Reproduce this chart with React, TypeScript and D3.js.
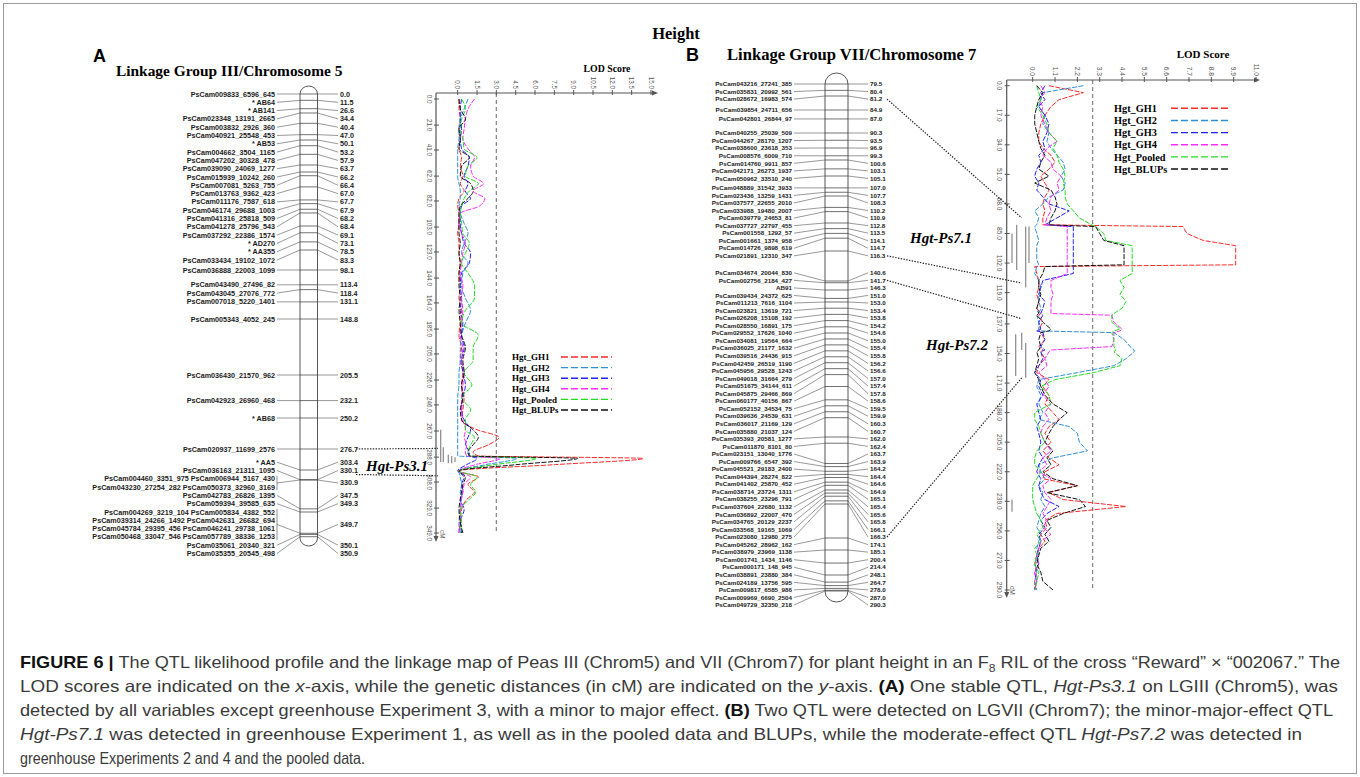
import * as d3 from "d3";

const SERIF = "'Liberation Serif', 'Times New Roman', serif";
const SANS = "'Liberation Sans', Arial, sans-serif";

const TRAITS = ["Hgt_GH1", "Hgt_GH2", "Hgt_GH3", "Hgt_GH4", "Hgt_Pooled", "Hgt_BLUPs"];
const TRAIT_COLORS = ["#ff2a2a", "#2f8fd8", "#2222ff", "#ff2cff", "#22dd22", "#111111"];

// ---------- Panel A: linkage group III / chromosome 5 ----------
const A_MARKERS: [string, number][] = [
  ["PsCam009833_6596_645", 0.0],
  ["* AB64", 11.5],
  ["* AB141", 26.6],
  ["PsCam023348_13191_2665", 34.4],
  ["PsCam003832_2926_360", 40.4],
  ["PsCam040921_25548_453", 47.0],
  ["* AB53", 50.1],
  ["PsCam004662_3504_1165", 53.2],
  ["PsCam047202_30328_478", 57.9],
  ["PsCam039090_24069_1277", 63.7],
  ["PsCam015939_10242_260", 66.2],
  ["PsCam007081_5263_755", 66.4],
  ["PsCam013763_9362_423", 67.0],
  ["PsCam011176_7587_618", 67.7],
  ["PsCam046174_29688_1003", 67.9],
  ["PsCam041316_25818_509", 68.2],
  ["PsCam041278_25796_543", 68.4],
  ["PsCam037292_22386_1574", 69.1],
  ["* AD270", 73.1],
  ["* AA355", 78.5],
  ["PsCam033434_19102_1072", 83.3],
  ["PsCam036888_22003_1099", 98.1],
  ["PsCam043490_27496_82", 113.4],
  ["PsCam043045_27076_772", 118.4],
  ["PsCam007018_5220_1401", 131.1],
  ["PsCam005343_4052_245", 148.8],
  ["PsCam036430_21570_962", 205.5],
  ["PsCam042923_26960_468", 232.1],
  ["* AB68", 250.2],
  ["PsCam020937_11699_2576", 276.7],
  ["* AA5", 303.4],
  ["PsCam036163_21311_1095", 330.1],
  ["PsCam004460_3351_975 PsCam006944_5167_430", 330.9],
  ["PsCam043230_27254_282 PsCam050373_32960_3169", 330.9],
  ["PsCam042783_26826_1395", 347.5],
  ["PsCam059394_39585_635", 349.3],
  ["PsCam004269_3219_104 PsCam005834_4382_552", 349.7],
  ["PsCam039314_24266_1492 PsCam042631_26682_694", 349.7],
  ["PsCam045784_29395_456 PsCam046241_29738_1061", 349.7],
  ["PsCam050468_33047_546 PsCam057789_38336_1253", 349.7],
  ["PsCam035061_20340_321", 350.1],
  ["PsCam035355_20545_498", 350.9],
];

const A_GRID = [
  0, 8, 16, 24, 32, 40, 47, 54, 62, 68,
  74, 80, 86, 92, 100, 108, 116, 124, 132, 140,
  150, 160, 170, 180, 190, 200, 210, 220, 230, 240,
  250, 258, 266, 272, 278, 284, 287, 289, 294, 299,
  304, 310, 316, 322, 330, 340, 349,
];
const A_GH1 = [
  0.1, 0.1, 0.2, 0.1, 0.2, 0.1, 0.3, 0.2, 0.4, 0.2,
  0.5, 0.1, 0.0, 0.1, 0.1, 0.0, 0.1, 0.1, 0.2, 0.1,
  0.2, 0.1, 0.3, 0.2, 0.1, 0.3, 0.2, 0.4, 0.3, 0.5,
  0.4, 0.3, 1.5, 3.2, 2.4, 1.2, 1.6, 14.4, 7.6, 0.1,
  1.6, 0.8, 1.3, 0.7, 0.3, 0.2, 0.1,
];
const A_GH2 = [
  0.8, 0.5, 0.2, 0.1, 0.1, 0.0, 0.0, 0.0, 0.0, 0.1,
  0.2, 0.2, 0.1, 0.2, 0.5, 0.8, 0.5, 0.3, 0.8, 0.4,
  0.3, 0.6, 1.0, 0.6, 0.3, 0.2, 0.2, 0.1, 0.1, 0.0,
  0.0, 0.0, 0.0, 0.0, 0.0, 0.0, 0.0, 4.6, 2.2, 0.1,
  0.2, 0.3, 0.2, 0.3, 0.2, 0.1, 0.1,
];
const A_GH3 = [
  0.3, 0.2, 0.2, 0.3, 0.2, 0.3, 0.9, 0.8, 0.5, 0.8,
  0.6, 1.0, 0.3, 0.2, 0.2, 0.3, 0.5, 1.0, 0.9, 0.3,
  0.2, 0.3, 0.2, 0.4, 0.3, 0.5, 0.3, 0.4, 0.6, 0.4,
  0.3, 0.5, 1.0, 0.8, 0.6, 0.9, 0.9, 1.5, 0.7, 0.0,
  0.5, 0.3, 0.4, 0.2, 0.5, 0.2, 0.3,
];
const A_GH4 = [
  1.3, 0.8, 0.6, 0.5, 0.4, 0.8, 1.3, 1.0, 1.2, 2.0,
  1.2, 2.1, 1.7, 0.2, 0.1, 0.3, 0.6, 0.4, 0.3, 0.2,
  0.4, 0.3, 0.4, 0.3, 0.2, 0.4, 0.3, 0.5, 0.4, 0.3,
  0.3, 0.4, 0.6, 0.5, 0.7, 0.6, 0.7, 3.3, 1.4, 0.1,
  1.0, 0.5, 0.4, 0.3, 0.2, 0.2, 0.1,
];
const A_POOLED = [
  0.3, 0.6, 0.3, 0.2, 0.4, 0.5, 1.5, 0.8, 0.6, 1.6,
  0.9, 0.5, 0.3, 0.2, 0.3, 0.4, 0.9, 0.6, 0.3, 0.8,
  1.3, 1.3, 0.6, 0.3, 1.6, 1.2, 1.2, 0.5, 1.1, 0.3,
  1.0, 0.6, 0.6, 1.3, 1.0, 0.8, 0.9, 6.1, 2.9, 0.1,
  1.5, 1.0, 1.4, 0.9, 0.2, 0.3, 0.2,
];
const A_BLUPS = [
  0.1, 0.2, 0.6, 0.1, 0.2, 0.1, 0.9, 0.3, 0.2, 1.0,
  1.2, 0.8, 0.2, 0.1, 0.1, 0.1, 0.2, 0.1, 0.2, 0.1,
  0.1, 0.2, 0.1, 0.2, 0.3, 0.6, 0.4, 0.5, 0.3, 0.4,
  0.2, 0.3, 1.2, 1.6, 1.2, 0.8, 0.9, 9.3, 4.6, 0.1,
  0.6, 0.4, 0.3, 0.2, 0.1, 0.2, 0.4,
];
const A_LOD_TICKS = [0, 1.5, 3, 4.5, 6, 7.5, 9, 10.5, 12, 13.5, 15];
const A_CM_TICKS = [0, 21, 41, 62, 82, 103, 123, 144, 164, 185, 205, 226, 246, 267, 288, 308, 329, 349];
const A_THRESHOLD = 3.0;
const A_QTL = [{ name: "Hgt-Ps3.1", flank: [276.7, 330.1], plotCM: [281, 303] }];
const A_CI: [number, number][] = [[266, 292], [280, 292], [286, 293], [287, 293], [288, 292]];

// ---------- Panel B: linkage group VII / chromosome 7 ----------
const B_MARKERS: [string, number][] = [
  ["PsCam043216_27241_385", 79.5],
  ["PsCam035831_20992_561", 80.4],
  ["PsCam028672_16983_574", 81.2],
  ["PsCam039854_24711_656", 84.9],
  ["PsCam042801_26844_97", 87.0],
  ["PsCam040255_25039_509", 90.3],
  ["PsCam044267_28170_1207", 93.5],
  ["PsCam038600_23618_353", 96.9],
  ["PsCam008576_6009_710", 99.3],
  ["PsCam014760_9911_857", 100.6],
  ["PsCam042171_26273_1937", 103.1],
  ["PsCam050962_33510_240", 105.1],
  ["PsCam048889_31542_3933", 107.0],
  ["PsCam023436_13259_1431", 107.7],
  ["PsCam037577_22655_2010", 108.3],
  ["PsCam033988_19480_2007", 110.2],
  ["PsCam039779_24653_81", 110.9],
  ["PsCam037727_22797_455", 112.8],
  ["PsCam001558_1292_57", 113.5],
  ["PsCam001661_1374_958", 114.1],
  ["PsCam014726_9898_619", 114.7],
  ["PsCam021891_12310_347", 116.3],
  ["PsCam034674_20044_830", 140.6],
  ["PsCam002756_2184_427", 141.7],
  ["AB91", 146.3],
  ["PsCam039434_24372_625", 151.0],
  ["PsCam011213_7616_1104", 153.0],
  ["PsCam023821_13619_721", 153.4],
  ["PsCam026208_15108_192", 153.8],
  ["PsCam028550_16891_175", 154.2],
  ["PsCam029552_17626_1040", 154.6],
  ["PsCam034081_19564_664", 155.0],
  ["PsCam036025_21177_1632", 155.4],
  ["PsCam039516_24436_915", 155.8],
  ["PsCam042459_26519_1190", 156.2],
  ["PsCam045956_29528_1243", 156.6],
  ["PsCam049018_31664_279", 157.0],
  ["PsCam051675_34144_611", 157.4],
  ["PsCam045875_29466_869", 157.8],
  ["PsCam060177_40156_867", 158.6],
  ["PsCam052152_34534_75", 159.5],
  ["PsCam039636_24539_631", 159.9],
  ["PsCam036017_21169_129", 160.3],
  ["PsCam035880_21037_124", 160.7],
  ["PsCam035393_20581_1277", 162.0],
  ["PsCam011870_8101_80", 162.4],
  ["PsCam023151_13040_1776", 163.7],
  ["PsCam009766_6547_392", 163.9],
  ["PsCam045521_29183_2400", 164.2],
  ["PsCam044394_28274_822", 164.4],
  ["PsCam041402_25870_452", 164.6],
  ["PsCam038714_23724_1311", 164.9],
  ["PsCam038255_23296_791", 165.1],
  ["PsCam037604_22680_1132", 165.4],
  ["PsCam036892_22007_470", 165.6],
  ["PsCam034765_20129_2237", 165.8],
  ["PsCam033568_19165_1069", 166.1],
  ["PsCam023080_12980_275", 166.3],
  ["PsCam045262_28962_162", 174.1],
  ["PsCam038979_23969_1138", 185.1],
  ["PsCam001741_1434_1146", 200.4],
  ["PsCam000171_148_945", 214.4],
  ["PsCam038891_23880_384", 248.1],
  ["PsCam024189_13756_595", 264.7],
  ["PsCam009817_6585_986", 278.0],
  ["PsCam009969_6690_2504", 287.0],
  ["PsCam049729_32350_218", 290.3],
];

const B_GRID = [
  0, 4, 8, 12, 17, 22, 27, 32, 36, 40,
  44, 48, 52, 56, 60, 64, 68, 72, 76, 80,
  81, 85, 89, 92, 96, 100, 103, 104, 108, 112,
  116, 120, 124, 128, 131, 132, 136, 140, 141, 142,
  146, 150, 152, 153, 157, 161, 165, 169, 173, 178,
  183, 188, 192, 196, 200, 205, 210, 214, 218, 222,
  226, 230, 234, 238, 242, 246, 250, 254, 258, 262,
  266, 270, 275, 280, 285, 290,
];
const B_GH1 = [
  0.8, 2.5, 1.3, 0.9, 0.6, 0.4, 0.3, 0.3, 0.5, 0.9,
  1.1, 0.8, 0.4, 0.6, 0.8, 0.6, 0.5, 0.6, 0.5, 0.5,
  7.4, 7.6, 8.4, 10.0, 10.0, 10.0, 10.0, 0.1, 0.2, 0.3,
  0.3, 0.2, 0.3, 0.2, 0.4, 0.3, 0.5, 0.3, 0.3, 0.4,
  0.6, 0.3, 0.5, 0.4, 0.6, 0.3, 0.2, 0.8, 0.5, 0.8,
  0.6, 1.0, 1.3, 0.8, 0.6, 0.9, 0.5, 0.8, 1.3, 0.6,
  0.5, 2.2, 0.8, 1.5, 4.6, 1.2, 0.6, 0.7, 0.4, 0.6,
  0.3, 0.2, 0.1, 0.2, 0.1, 0.1,
];
const B_GH2 = [
  2.5, 0.5, 0.4, 0.3, 0.6, 0.5, 0.8, 0.7, 0.9, 1.2,
  1.5, 1.6, 1.4, 1.6, 1.5, 0.8, 0.5, 0.1, 0.3, 0.2,
  0.1, 0.2, 0.3, 0.2, 0.2, 0.2, 0.3, 0.2, 0.1, 0.3,
  0.4, 0.3, 0.3, 0.4, 0.3, 0.2, 0.3, 0.3, 0.3, 4.0,
  4.5, 4.8, 5.0, 5.0, 4.6, 4.0, 2.2, 0.3, 0.2, 0.4,
  0.3, 0.5, 0.3, 1.8, 2.2, 2.3, 2.7, 1.0, 0.3, 0.4,
  0.6, 0.3, 0.5, 0.4, 0.6, 0.4, 0.3, 0.2, 0.4, 0.3,
  0.2, 0.3, 0.1, 0.2, 0.1, 0.2,
];
const B_GH3 = [
  0.6, 0.4, 0.6, 0.3, 0.6, 0.8, 0.7, 0.5, 0.6, 0.3,
  0.4, 0.2, 0.1, 0.3, 0.2, 0.5, 0.8, 1.8, 1.2, 0.6,
  2.0, 2.0, 2.0, 2.0, 2.0, 2.0, 2.0, 2.0, 2.0, 0.5,
  0.4, 0.3, 0.6, 0.5, 0.4, 0.5, 0.3, 0.4, 0.2, 0.5,
  0.6, 0.4, 0.6, 0.4, 0.5, 0.3, 0.1, 0.4, 0.3, 0.5,
  0.2, 0.3, 0.4, 0.2, 0.3, 0.4, 0.3, 0.5, 0.3, 0.2,
  0.4, 0.3, 0.4, 0.6, 1.3, 0.7, 0.4, 0.6, 0.3, 0.4,
  0.3, 0.2, 0.3, 0.1, 0.2, 0.1,
];
const B_GH4 = [
  0.4, 0.6, 0.3, 0.5, 0.4, 0.6, 0.8, 1.2, 0.7, 0.5,
  0.9, 1.0, 1.4, 1.2, 1.3, 0.9, 0.8, 0.9, 0.7, 0.6,
  1.7, 1.7, 1.7, 1.7, 1.7, 1.7, 1.7, 1.7, 1.7, 0.9,
  0.9, 1.0, 0.9, 0.9, 0.9, 3.9, 4.0, 4.4, 4.3, 4.0,
  4.0, 3.9, 0.9, 0.8, 0.6, 0.7, 0.3, 0.6, 0.8, 0.5,
  0.9, 0.6, 0.8, 0.5, 0.4, 0.6, 0.9, 0.5, 0.7, 0.3,
  0.9, 0.5, 0.6, 0.9, 0.7, 0.5, 0.7, 0.5, 0.9, 0.4,
  0.3, 0.2, 0.3, 0.1, 0.2, 0.1,
];
const B_POOLED = [
  0.2, 0.3, 0.4, 0.2, 0.5, 0.7, 0.8, 1.2, 1.0, 1.2,
  1.3, 1.5, 1.6, 1.5, 1.6, 1.6, 1.7, 2.0, 2.3, 2.9,
  3.1, 3.5, 3.6, 4.9, 4.9, 4.9, 4.9, 4.9, 4.9, 4.3,
  4.5, 4.3, 4.6, 4.4, 4.0, 3.9, 3.9, 4.3, 4.0, 3.9,
  4.0, 4.0, 4.1, 4.0, 4.4, 4.3, 3.0, 1.1, 0.4, 0.8,
  0.9, 0.1, 0.1, 0.3, 0.4, 0.6, 0.2, 0.1, 0.1, 0.4,
  0.2, 0.0, 0.0, 0.0, 0.1, 0.2, 0.4, 0.5, 0.2, 0.4,
  0.1, 0.2, 0.1, 0.3, 0.2, 0.1,
];
const B_BLUPS = [
  0.2, 0.5, 0.3, 0.2, 0.1, 0.1, 0.2, 0.3, 0.4, 0.6,
  0.4, 0.3, 0.8, 0.1, 0.9, 1.1, 1.2, 1.1, 0.9, 0.8,
  3.1, 3.3, 3.5, 4.5, 4.5, 4.5, 4.5, 0.6, 0.5, 0.3,
  0.3, 0.4, 0.3, 0.2, 0.3, 0.2, 0.5, 0.9, 0.8, 0.4,
  0.3, 0.4, 0.3, 0.2, 0.3, 0.2, 0.1, 0.3, 0.4, 0.6,
  1.0, 1.7, 1.3, 1.0, 0.8, 0.6, 1.0, 0.7, 0.9, 0.5,
  1.0, 2.2, 0.7, 2.3, 2.6, 1.5, 0.7, 0.9, 0.6, 0.8,
  0.4, 0.3, 0.2, 0.4, 0.5, 1.0,
];
const B_LOD_TICKS = [0, 1.1, 2.2, 3.3, 4.4, 5.5, 6.6, 7.7, 8.8, 9.9, 11];
const B_CM_TICKS = [0, 17, 34, 51, 68, 85, 102, 119, 137, 154, 171, 188, 205, 222, 239, 256, 273, 290];
const B_THRESHOLD = 2.95;
const B_QTL = [
  { name: "Hgt-Ps7.1", flank: [81.2, 116.3], plotCM: [76, 113.5] },
  { name: "Hgt-Ps7.2", flank: [141.7, 166.3], plotCM: [134, 168] },
];
const B_CI: [number, number][] = [[85, 102], [80, 106], [81, 116], [81, 102], [142, 152], [143, 167], [148, 168], [238, 245]];

const CAPTION: [string, string][][] = [
  [
    ["FIGURE 6 | ", "b"],
    ["The QTL likelihood profile and the linkage map of Peas III (Chrom5) and VII (Chrom7) for plant height in an F", ""],
    ["8", "sub"],
    [" RIL of the cross \u201CReward\u201D \u00D7 \u201C002067.\u201D The", "up"],
  ],
  [
    ["LOD scores are indicated on the ", ""],
    ["x", "i"],
    ["-axis, while the genetic distances (in cM) are indicated on the ", ""],
    ["y", "i"],
    ["-axis. ", ""],
    ["(A)", "b"],
    [" One stable QTL, ", ""],
    ["Hgt-Ps3.1", "i"],
    [" on LGIII (Chrom5), was", ""],
  ],
  [
    ["detected by all variables except greenhouse Experiment 3, with a minor to major effect. ", ""],
    ["(B)", "b"],
    [" Two QTL were detected on LGVII (Chrom7); the minor-major-effect QTL", ""],
  ],
  [
    ["Hgt-Ps7.1", "i"],
    [" was detected in greenhouse Experiment 1, as well as in the pooled data and BLUPs, while the moderate-effect QTL ", ""],
    ["Hgt-Ps7.2", "i"],
    [" was detected in", ""],
  ],
  [["greenhouse Experiments 2 and 4 and the pooled data.", ""]],
];
const CAPTION_WIDTHS = [1320, 1318, 1313, 1282, 345];

// labels pushed down from their targets, then pulled back up under a floor
function spread(targets: number[], gap: number, maxY: number) {
  const y: number[] = [];
  targets.forEach((t, i) => y.push(i === 0 ? t : Math.max(t, y[i - 1] + gap)));
  for (let i = y.length - 1; i >= 0; i--) {
    const lim = i === y.length - 1 ? maxY : y[i + 1] - gap;
    y[i] = Math.min(y[i], lim);
  }
  return y;
}

type Row = { name: string; cM: number; y: number; cy: number };
type Group = { cM: number; rows: Row[]; cy: number; y: number };

function layoutMap(markers: [string, number][], chromY: (v: number) => number, gap: number, maxY: number): Group[] {
  const targets = markers.map((m) => chromY(m[1]));
  const ys = spread(targets, gap, maxY);
  const rows = markers.map((m, i) => ({ name: m[0], cM: m[1], y: ys[i], cy: targets[i] }));
  return d3.groups(rows, (r) => r.cM).map(([cM, rs]) => ({
    cM,
    rows: rs,
    cy: rs[0].cy,
    y: d3.mean(rs, (r) => r.y) as number,
  }));
}

function LinkageMap({ groups, chrom, leftEnd, posStart, fs }: any) {
  const xl = chrom.x;
  const xr = chrom.x + chrom.w;
  return (
    <g fontFamily={SANS} fontWeight="bold" fontSize={fs} fill="#1a1a1a">
      <rect x={xl} y={chrom.top} width={chrom.w} height={chrom.bottom - chrom.top}
        rx={chrom.w / 2} ry={chrom.ry} fill="#fff" stroke="#444" strokeWidth={0.9} />
      {groups.map((g: Group) => {
        const multi = g.rows.length > 1;
        return (
          <g key={g.cM}>
            <line x1={xl} x2={xr} y1={g.cy} y2={g.cy} stroke="#333" strokeWidth={0.7} />
            {g.rows.map((r, k) => (
              <text key={k} x={leftEnd} y={r.y} dy="0.35em" textAnchor="end">{r.name}</text>
            ))}
            {multi && (
              <line x1={leftEnd + 2} x2={leftEnd + 2} y1={g.rows[0].y - 3}
                y2={g.rows[g.rows.length - 1].y + 3} stroke="#444" strokeWidth={0.6} />
            )}
            <line x1={leftEnd + 2} y1={g.y} x2={xl} y2={g.cy} stroke="#444" strokeWidth={0.55} />
            <line x1={xr} y1={g.cy} x2={posStart - 2} y2={g.y} stroke="#444" strokeWidth={0.55} />
            <text x={posStart} y={g.y} dy="0.35em">{g.cM.toFixed(1)}</text>
          </g>
        );
      })}
    </g>
  );
}

function LodPlot(p: any) {
  const { grid, series, x, y, cmTicks, lodTicks, threshold, axisX, top, arrowX, bottomY,
    curve, tickFs, legend, title, ci, ciOffsets } = p;
  const line = d3.line<number>().x((v) => x(v)).y((_, i) => y(grid[i])).curve(curve);
  const cmMax = grid[grid.length - 1];
  const axisColor = "#555";
  return (
    <g>
      <line x1={x(threshold)} x2={x(threshold)} y1={top} y2={y(cmMax)}
        stroke="#8a8a8a" strokeWidth={1.3} strokeDasharray="4,3" />
      {series.map((vals: number[], k: number) => (
        <path key={k} d={line(vals) as string} fill="none" stroke={TRAIT_COLORS[k]}
          strokeWidth={1} strokeDasharray="5,1.5" />
      ))}
      {ci.map((c: [number, number], k: number) => (
        <line key={k} x1={axisX + ciOffsets[k]} x2={axisX + ciOffsets[k]} y1={y(c[0])} y2={y(c[1])}
          stroke="#888" strokeWidth={1.2} />
      ))}
      <line x1={axisX} x2={arrowX} y1={top} y2={top} stroke={axisColor} strokeWidth={1} />
      <path d={`M${arrowX + 4},${top}L${arrowX - 2},${top - 2.5}L${arrowX - 2},${top + 2.5}Z`} fill={axisColor} />
      <line x1={axisX} x2={axisX} y1={top} y2={bottomY} stroke={axisColor} strokeWidth={1.2} />
      <path d={`M${axisX},${bottomY + 4}L${axisX - 2.5},${bottomY - 2}L${axisX + 2.5},${bottomY - 2}Z`} fill={axisColor} />
      <g fontFamily={SANS} fontSize={tickFs} fill="#555">
        {lodTicks.map((v: number) => (
          <g key={v}>
            <line x1={x(v)} x2={x(v)} y1={top - 3} y2={top + 2} stroke={axisColor} strokeWidth={1} />
            <text transform={`translate(${x(v)},${top - 4}) rotate(90)`} textAnchor="end" dy="0.35em">
              {v.toFixed(1)}
            </text>
          </g>
        ))}
        {cmTicks.map((v: number) => (
          <g key={v}>
            <line x1={axisX - 2} x2={axisX + 3} y1={y(v)} y2={y(v)} stroke={axisColor} strokeWidth={1} />
            <text transform={`translate(${axisX - 7},${y(v)}) rotate(90)`} textAnchor="middle" dy="0.35em">
              {v.toFixed(1)}
            </text>
          </g>
        ))}
        <text transform={`translate(${axisX + 6},${bottomY - 8}) rotate(90)`} dy="0.35em">cM</text>
      </g>
      <text x={title.x} y={title.y} textAnchor="middle" fontFamily={SERIF} fontWeight="bold" fontSize={title.fs}>
        LOD Score
      </text>
      <g fontFamily={SERIF} fontWeight="bold" fontSize={legend.fs}>
        {TRAITS.map((t, k) => {
          const ly = legend.y0 + k * legend.dy;
          return (
            <g key={t}>
              <text x={legend.x} y={ly} dy="0.35em">{t}</text>
              <line x1={legend.lx0} x2={legend.lx1} y1={ly} y2={ly} stroke={TRAIT_COLORS[k]}
                strokeWidth={1.4} strokeDasharray="7,3" />
            </g>
          );
        })}
      </g>
    </g>
  );
}

export default function App() {
  // panel A geometry
  const aChrom = { x: 300, w: 17.5, top: 86, bottom: 546, ry: 8 };
  const aChromY = d3.scaleLinear()
    .domain([0, 34.4, 50.1, 63.7, 66.2, 69.1, 83.3, 98.1, 148.8, 205.5, 250.2, 276.7, 303.4, 330.9, 349.3, 349.6, 351])
    .range([94, 113, 140, 165, 172, 226, 250, 270, 319, 375, 418, 449, 470, 480, 512, 533, 537]);
  const aGroups = layoutMap(A_MARKERS, aChromY, 8.3, 553.5);
  const aX = d3.scaleLinear().domain([0, 15]).range([457.7, 651]);
  const aY = d3.scaleLinear().domain([0, 349]).range([99, 533]);
  const aAxisX = 436;

  // panel B geometry
  const bChrom = { x: 825, w: 23, top: 73, bottom: 602, ry: 11 };
  const bChromY = d3.scaleLinear()
    .domain([79.5, 81.2, 84.9, 90.3, 96.9, 100.6, 105.1, 108.3, 112.8, 116.3, 140.6, 146.3, 153.0, 155.0, 162.0, 166.3, 174.1, 185.1, 214.4, 290.3])
    .range([84, 96, 110, 133, 148, 160, 176, 196, 223, 251, 281, 290, 302, 333, 437, 504, 538, 550, 575, 591]);
  const bGroups = layoutMap(B_MARKERS, bChromY, 7.55, 605);
  const bX = d3.scaleLinear().domain([0, 11]).range([1032.7, 1256]);
  const bY = d3.scaleLinear().domain([0, 290]).range([85.7, 590]);
  const bAxisX = 1006.7;

  const labelY = (groups: Group[], cM: number) => (groups.find((g) => g.cM === cM) as Group).y;

  const aQtlLabel = [{ x: 366, y: 471 }];
  const bQtlLabel = [{ x: 910, y: 243 }, { x: 926, y: 350 }];

  return (
    <svg width={1360} height={777} style={{ position: "absolute", left: 0, top: 0, background: "#fff" }}>
      <rect x={3.5} y={3.5} width={1353} height={770} fill="none" stroke="#9a9a9a" strokeWidth={1} />

      <text x={676} y={39} textAnchor="middle" fontFamily={SERIF} fontWeight="bold" fontSize={16.5}>Height</text>

      {/* ---------- panel A ---------- */}
      <text x={93} y={62} fontFamily={SANS} fontWeight="bold" fontSize={18}>A</text>
      <text x={116} y={76} fontFamily={SERIF} fontWeight="bold" fontSize={15.4}>Linkage Group III/Chromosome 5</text>
      <LinkageMap groups={aGroups} chrom={aChrom} leftEnd={275} posStart={340} fs={7.2} />
      <LodPlot grid={A_GRID} series={[A_GH1, A_GH2, A_GH3, A_GH4, A_POOLED, A_BLUPS]} x={aX} y={aY}
        cmTicks={A_CM_TICKS} lodTicks={A_LOD_TICKS} threshold={A_THRESHOLD} axisX={aAxisX} top={93}
        arrowX={654} bottomY={538} curve={d3.curveMonotoneY} tickFs={6.3}
        legend={{ x: 512, y0: 357, dy: 10.6, lx0: 561, lx1: 612, fs: 9 }}
        title={{ x: 607, y: 72, fs: 9.8 }} ci={A_CI} ciOffsets={[4.7, 7.3, 12.3, 15.7, 19]} />
      {A_QTL.map((q, k) => (
        <g key={q.name}>
          {[0, 1].map((j) => (
            <line key={j} x1={356} y1={labelY(aGroups, q.flank[j]) + j * 4} x2={aAxisX + 2} y2={aY(q.plotCM[j])}
              stroke="#222" strokeWidth={1.2} strokeDasharray="1.4,1.4" />
          ))}
          <text x={aQtlLabel[k].x} y={aQtlLabel[k].y} fontFamily={SERIF} fontWeight="bold" fontStyle="italic" fontSize={15}>
            {q.name}
          </text>
        </g>
      ))}

      {/* ---------- panel B ---------- */}
      <text x={686} y={61} fontFamily={SANS} fontWeight="bold" fontSize={18}>B</text>
      <text x={727} y={60} fontFamily={SERIF} fontWeight="bold" fontSize={16.6}>Linkage Group VII/Chromosome 7</text>
      <LinkageMap groups={bGroups} chrom={bChrom} leftEnd={792} posStart={870} fs={6.25} />
      <LodPlot grid={B_GRID} series={[B_GH1, B_GH2, B_GH3, B_GH4, B_POOLED, B_BLUPS]} x={bX} y={bY}
        cmTicks={B_CM_TICKS} lodTicks={B_LOD_TICKS} threshold={B_THRESHOLD} axisX={bAxisX} top={80}
        arrowX={1256} bottomY={594} curve={d3.curveLinear} tickFs={6.6}
        legend={{ x: 1114, y0: 108.3, dy: 12.15, lx0: 1171, lx1: 1229, fs: 10.3 }}
        title={{ x: 1203, y: 58, fs: 11 }} ci={B_CI} ciOffsets={[5.3, 10, 19, 22.3, 15, 9, 19, 5.3]} />
      {B_QTL.map((q, k) => (
        <g key={q.name}>
          {[0, 1].map((j) => (
            <line key={j} x1={887} y1={labelY(bGroups, q.flank[j])} x2={bAxisX + 15} y2={bY(q.plotCM[j])}
              stroke="#222" strokeWidth={1.2} strokeDasharray="1.4,1.4" />
          ))}
          <text x={bQtlLabel[k].x} y={bQtlLabel[k].y} fontFamily={SERIF} fontWeight="bold" fontStyle="italic" fontSize={15}>
            {q.name}
          </text>
        </g>
      ))}

      {/* ---------- caption ---------- */}
      <g fontFamily={SANS} fontSize={16.5} fill="#3a3a3a">
        {CAPTION.map((segs, li) => (
          <text key={li} x={20} y={668 + li * 24} textLength={CAPTION_WIDTHS[li]} lengthAdjust="spacingAndGlyphs">
            {segs.map(([t, s], si) => (
              <tspan key={si}
                fontWeight={s === "b" ? "bold" : undefined}
                fill={s === "b" ? "#111" : undefined}
                fontStyle={s === "i" ? "italic" : undefined}
                fontSize={s === "sub" ? 11 : undefined}
                dy={s === "sub" ? 4 : s === "up" ? -4 : undefined}>
                {t}
              </tspan>
            ))}
          </text>
        ))}
      </g>
    </svg>
  );
}
